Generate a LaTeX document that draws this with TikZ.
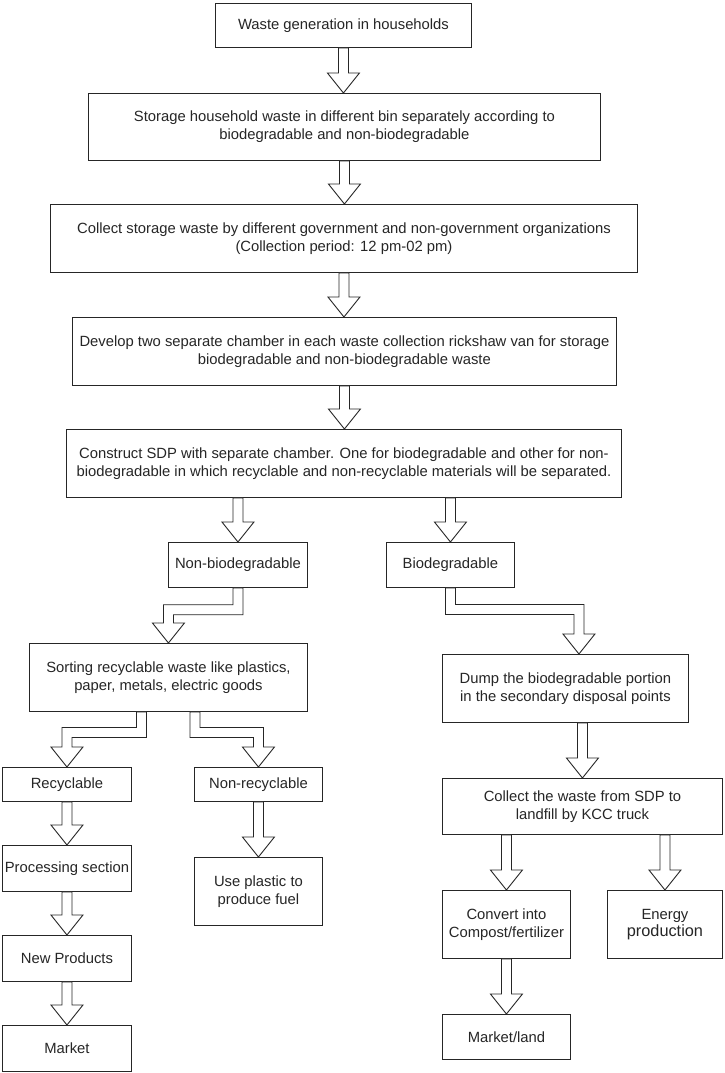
\documentclass[tikz,border=0pt]{standalone}
\usepackage{fontspec}
\setmainfont{Liberation Sans}
\usetikzlibrary{calc}
\tikzset{
  box/.style={draw=black!85, line width=0.9pt, fill=white, align=center, inner sep=0pt,
    anchor=north west, font=\fontsize{14.8}{17.7}\selectfont, text=black!85},
  barrow/.style={draw=black!85, line width=0.9pt, fill=white, line join=miter},
}
% straight downward block arrow: start, tip
\newcommand{\varrow}[2]{%
  \draw[barrow] let \p1=(#1), \p2=(#2) in
    (\x1-5pt,\y1) -- (\x1-5pt,\y2+20pt) -- (\x1-16pt,\y2+20pt) -- (\x1,\y2)
    -- (\x1+16pt,\y2+20pt) -- (\x1+5pt,\y2+20pt) -- (\x1+5pt,\y1) -- cycle;}
% elbow arrow going right: start, tip, level
\newcommand{\earrowR}[3]{%
  \draw[barrow] let \p1=(#1), \p2=(#2), \p3=(#3) in
    (\x1-5pt,\y1) -- (\x1-5pt,\y3-5pt) -- (\x2-5pt,\y3-5pt) -- (\x2-5pt,\y2+20pt)
    -- (\x2-16pt,\y2+20pt) -- (\x2,\y2) -- (\x2+16pt,\y2+20pt) -- (\x2+5pt,\y2+20pt)
    -- (\x2+5pt,\y3+5pt) -- (\x1+5pt,\y3+5pt) -- (\x1+5pt,\y1) -- cycle;}
% elbow arrow going left: start, tip, level
\newcommand{\earrowL}[3]{%
  \draw[barrow] let \p1=(#1), \p2=(#2), \p3=(#3) in
    (\x1+5pt,\y1) -- (\x1+5pt,\y3-5pt) -- (\x2+5pt,\y3-5pt) -- (\x2+5pt,\y2+20pt)
    -- (\x2+16pt,\y2+20pt) -- (\x2,\y2) -- (\x2-16pt,\y2+20pt) -- (\x2-5pt,\y2+20pt)
    -- (\x2-5pt,\y3+5pt) -- (\x1-5pt,\y3+5pt) -- (\x1-5pt,\y1) -- cycle;}
\begin{document}
\begin{tikzpicture}[x=1pt,y=-1pt]
\useasboundingbox[fill=white] (0,0) rectangle (724,1073);

\node[box, minimum width=256pt, minimum height=44pt] (b1) at (215,3) {Waste generation in households};
\node[box, minimum width=512pt, minimum height=67pt] (b2) at (88,93) {Storage household waste in different bin separately according to\\biodegradable and non-biodegradable};
\node[box, minimum width=587pt, minimum height=68pt] (b3) at (50,204) {Collect storage waste by different government and non-government organizations\\(Collection period: 12 pm-02 pm)};
\node[box, minimum width=544pt, minimum height=68pt] (b4) at (72,317) {Develop two separate chamber in each waste collection rickshaw van for storage\\biodegradable and non-biodegradable waste};
\node[box, minimum width=555pt, minimum height=68pt] (b5) at (66,429) {Construct SDP with separate chamber. One for biodegradable and other for non-\\biodegradable in which recyclable and non-recyclable materials will be separated.};
\node[box, minimum width=139pt, minimum height=45pt] (nonbio) at (168,542) {Non-biodegradable};
\node[box, minimum width=128pt, minimum height=45pt] (bio) at (386,542) {Biodegradable};
\node[box, minimum width=278pt, minimum height=68pt] (sort) at (29,643) {Sorting recyclable waste like plastics,\\paper, metals, electric goods};
\node[box, minimum width=246pt, minimum height=68pt] (dump) at (442,654) {Dump the biodegradable portion\\in the secondary disposal points};
\node[box, minimum width=129pt, minimum height=34pt] (recyc) at (2,767) {Recyclable};
\node[box, minimum width=128pt, minimum height=34pt] (nonrec) at (194,767) {Non-recyclable};
\node[box, minimum width=129pt, minimum height=46pt] (proc) at (2,845) {Processing section};
\node[box, minimum width=129pt, minimum height=46pt] (newp) at (2,935) {New Products};
\node[box, minimum width=129pt, minimum height=46pt] (market) at (2,1025) {Market};
\node[box, minimum width=128pt, minimum height=68pt] (useplast) at (194,857) {Use plastic to\\produce fuel};
\node[box, minimum width=280pt, minimum height=56pt] (truck) at (442,778) {Collect the waste from SDP to\\landfill by KCC truck};
\node[box, minimum width=128pt, minimum height=68pt] (convert) at (442,890) {Convert into\\Compost/fertilizer};
\node[box, minimum width=115pt, minimum height=68pt] (energy) at (607,890) {Energy\\\fontsize{16.3}{19}\selectfont production};
\node[box, minimum width=128pt, minimum height=45pt] (mland) at (442,1014) {Market/land};

\coordinate (h1) at (0,609.7);
\coordinate (h2) at (0,609.5);
\coordinate (h3) at (0,732.5);
\coordinate (dtip) at ($(dump.north)+(13.5,0)$);
\coordinate (s1) at ($(sort.south)+(-27,0)$);
\coordinate (s2) at ($(sort.south)+(26.5,0)$);

\varrow{b1.south}{b2.north}
\varrow{b2.south}{b3.north}
\varrow{b3.south}{b4.north}
\varrow{b4.south}{b5.north}
\varrow{nonbio.north |- b5.south}{nonbio.north}
\varrow{bio.north |- b5.south}{bio.north}
\earrowL{nonbio.south}{sort.north}{h1}
\earrowR{bio.south}{dtip}{h2}
\varrow{truck.north |- dump.south}{truck.north}
\earrowL{s1}{recyc.north}{h3}
\earrowR{s2}{nonrec.north}{h3}
\varrow{recyc.south}{proc.north}
\varrow{proc.south}{newp.north}
\varrow{newp.south}{market.north}
\varrow{nonrec.south}{useplast.north}
\varrow{convert.north |- truck.south}{convert.north}
\varrow{energy.north |- truck.south}{energy.north}
\varrow{convert.south}{mland.north}
\end{tikzpicture}
\end{document}
